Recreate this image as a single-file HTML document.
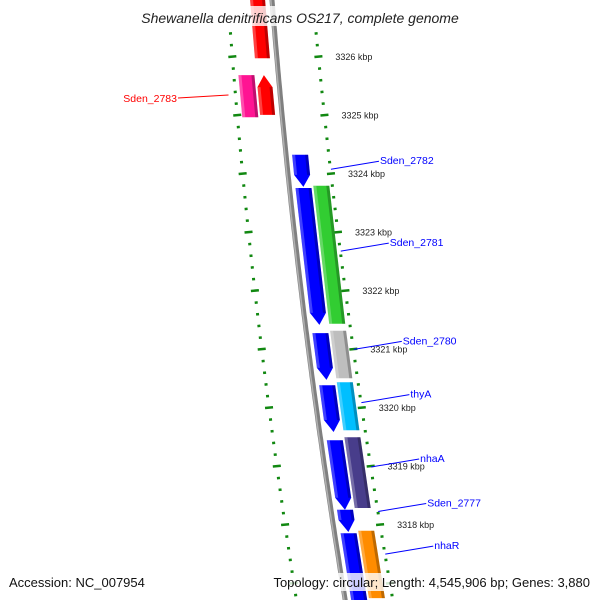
<!DOCTYPE html>
<html><head><meta charset="utf-8"><style>
html,body{margin:0;padding:0;background:#fff;}
svg{display:block;font-family:"Liberation Sans","DejaVu Sans",sans-serif;}
</style></head><body>
<svg id="chart" width="600" height="600" viewBox="0 0 600 600" xmlns="http://www.w3.org/2000/svg">
<defs>
<linearGradient id="bbg" x1="0" x2="1" y1="0" y2="0"><stop offset="0" stop-color="#bbb"/><stop offset="0.5" stop-color="#888"/><stop offset="1" stop-color="#666"/></linearGradient>
</defs>
<g id="ticks"></g>
<g id="backbone-g"></g>
<g id="genes"></g>
<g id="labels"></g>
<rect x="120" y="6" width="360" height="20" fill="#fff" opacity="0.8"/>
<text x="300" y="23" text-anchor="middle" font-size="14" font-style="italic" fill="#222">Shewanella denitrificans OS217, complete genome</text>
<rect x="7" y="573" width="139" height="18" fill="#fff" opacity="0.8"/>
<text x="9" y="587" font-size="13" fill="#111">Accession: NC_007954</text>
<rect x="260" y="573" width="332" height="18" fill="#fff" opacity="0.8"/>
<text x="590" y="587" text-anchor="end" font-size="13" fill="#111">Topology: circular; Length: 4,545,906 bp; Genes: 3,880</text>
</svg>
<script>
// data (kbp positions)
var geneNames = ["Sden_2784","Sden_2783","Sden_2783b","Sden_2782a","Sden_2782","Sden_2781","Sden_2781b","Sden_2780","Sden_2780b","thyA","Sden_2778","nhaA","Sden_2777","nhaR","Sden_2776"];
var geneStart = [3327.3,3325.69,3325.69,3324.33,3323.76,3323.80,3321.28,3321.32,3320.39,3320.44,3319.45,3319.50,3318.26,3317.90,3317.86];
var geneEnd   = [3325.98,3324.97,3325.01,3323.78,3321.42,3321.44,3320.48,3320.51,3319.59,3319.62,3318.26,3318.29,3317.88,3316.75,3316.6];
var geneRing  = [-1,-2,-1,1,1,2,1,2,1,2,1,2,1,2,1];
var geneColor = ["#ff0000","#ff1493","#ff0000","#0000ff","#0000ff","#32cd32","#0000ff","#bebebe","#0000ff","#00bfff","#0000ff","#483d8b","#0000ff","#ff8c00","#0000ff"];
var geneArrow = [0,0,-1,1,1,0,1,0,1,0,1,0,1,0,0];
var labelText = ["Sden_2783","Sden_2782","Sden_2781","Sden_2780","thyA","nhaA","Sden_2777","nhaR"];
var labelKbp  = [3325.3,3324.15,3322.75,3321.07,3320.16,3319.06,3318.30,3317.57];
var labelColor= ["#ff0000","#0000ff","#0000ff","#0000ff","#0000ff","#0000ff","#0000ff","#0000ff"];
var labelSide = [-1,1,1,1,1,1,1,1];
var tickKbp = [3326,3325,3324,3323,3322,3321,3320,3319,3318];

var NS="http://www.w3.org/2000/svg";
function yOf(k){return 57+(3326-k)*58.5;}
function kOf(y){return 3326-(y-57)/58.5;}
function bx(y){return 272+0.08*y+0.00007*y*y;}
function mk(tag,attrs,parent){var e=document.createElementNS(NS,tag);for(var a in attrs)e.setAttribute(a,attrs[a]);parent.appendChild(e);return e;}
var ringOff={"1":[6,22],"2":[24,40],"-1":[-22,-7],"-2":[-40,-24]};

// backbone
var bb=document.getElementById('backbone-g');
var d="";for(var y=-5;y<=605;y+=5){d+=(y==-5?"M":"L")+bx(y).toFixed(1)+","+y;}
var p=mk('path',{d:d,fill:"none",stroke:"#808080","stroke-width":5},bb);

var d2="";for(var y=-5;y<=605;y+=5){d2+=(y==-5?"M":"L")+(bx(y)-1.2).toFixed(1)+","+y;}
var p2=mk('path',{d:d2,fill:"none",stroke:"#b0b0b0","stroke-width":1.5},bb);


// ticks
var tg=document.getElementById('ticks');
var kTop=kOf(30),kBot=kOf(600);
for(var i=Math.ceil(kBot*5);i<=Math.floor(kTop*5);i++){
  var k=i/5,y=yOf(k),major=(i%5===0);
  var xr=bx(y)+41+0.011*y, xl=bx(y)-44-0.008*y;
  var len=major?8:3;
  var t1=mk('line',{x1:xr-len/2,y1:y,x2:xr+len/2,y2:y-len*0.1,stroke:"#118811","stroke-width":2.5},tg);
  
  var t2=mk('line',{x1:xl-len/2,y1:y,x2:xl+len/2,y2:y-len*0.1,stroke:"#118811","stroke-width":2.5},tg);
  
}
tickKbp.forEach(function(k){
  var y=yOf(k);
  var t=mk('text',{x:bx(y)+58+0.011*y,y:y+3,"font-size":9,fill:"#222"},tg);
  
  t.textContent=k+" kbp";
});

// genes
var gg=document.getElementById('genes');
function edge(y,off){return bx(y)+off;}
geneStart.forEach(function(s,i){
  var y1=yOf(s),y2=yOf(geneEnd[i]),o=ringOff[String(geneRing[i])];
  var ah=12,pts=[];
  var ya=y1,yb=y2;
  if(geneArrow[i]===1) yb=y2-ah;
  if(geneArrow[i]===-1) ya=y1+ah;
  // left edge top->bottom
  pts.push([edge(ya,o[0]),ya]);
  if(geneArrow[i]===-1) pts.unshift([edge(y1,(o[0]+o[1])/2),y1]);
  pts.push([edge(yb,o[0]),yb]);
  if(geneArrow[i]===1) pts.push([edge(y2,(o[0]+o[1])/2),y2]);
  pts.push([edge(yb,o[1]),yb]);
  pts.push([edge(ya,o[1]),ya]);
  var g=mk('polygon',{points:pts.map(function(q){return q[0].toFixed(1)+","+q[1].toFixed(1);}).join(" "),fill:geneColor[i]},gg);
  
  // shading strips
  var sh=mk('polygon',{points:[[edge(ya,o[1]-3),ya],[edge(yb,o[1]-3),yb],[edge(yb,o[1]),yb],[edge(ya,o[1]),ya]].map(function(q){return q[0].toFixed(1)+","+q[1].toFixed(1);}).join(" "),fill:"#000",opacity:0.25},gg);
  
  var hl=mk('polygon',{points:[[edge(ya,o[0]),ya],[edge(yb,o[0]),yb],[edge(yb,o[0]+3),yb],[edge(ya,o[0]+3),ya]].map(function(q){return q[0].toFixed(1)+","+q[1].toFixed(1);}).join(" "),fill:"#fff",opacity:0.25},gg);
  
});

// labels
var lg=document.getElementById('labels');
labelText.forEach(function(txt,i){
  var y=yOf(labelKbp[i]);
  if(labelSide[i]>0){
    var x0=bx(y)+40+0.011*y+2,x1=x0+48;
    var l=mk('line',{x1:x0,y1:y+4,x2:x1,y2:y-4,stroke:labelColor[i],"stroke-width":1},lg);
    
    var t=mk('text',{x:x1+1,y:y-1,"font-size":10.5,fill:labelColor[i]},lg);
    
    t.textContent=txt;
  } else {
    var x0=bx(y)-52,x1=178;
    var l=mk('line',{x1:x0,y1:y-3,x2:x1,y2:y,stroke:labelColor[i],"stroke-width":1},lg);
    
    var t=mk('text',{x:x1-1,y:y+4,"font-size":10.5,"text-anchor":"end",fill:labelColor[i]},lg);
    
    t.textContent=txt;
  }
});
</script>
</body></html>
